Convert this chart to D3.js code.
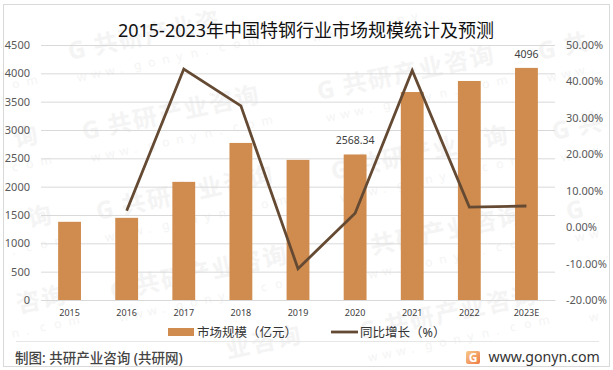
<!DOCTYPE html>
<html>
<head>
<meta charset="utf-8">
<script src="https://cdn.jsdelivr.net/npm/d3@7"></script>
<style>
  html, body { margin: 0; padding: 0; background: #fff; }
  text { font-family: "Noto Sans", "Noto Sans CJK SC", sans-serif; }
</style>
</head>
<body>
<div id="chart"></div>
<script>
const categories = ["2015", "2016", "2017", "2018", "2019", "2020", "2021", "2022", "2023E"];
const marketSize = [1380, 1450, 2085, 2772, 2473, 2568.34, 3670, 3865, 4096];
const growth = [null, 4.5, 43.4, 33.3, -11.4, 3.8, 43, 5.5, 5.8];
const leftTicks = [0, 500, 1000, 1500, 2000, 2500, 3000, 3500, 4000, 4500];
const rightTicks = [-20, -10, 0, 10, 20, 30, 40, 50];
const barLabels = {"2020": "2568.34", "2023E": "4096"};

const width = 613, height = 370;
const barColor = "#d08c4f", lineColor = "#654a33", textColor = "#595959";

const svg = d3.select("#chart").append("svg")
  .attr("width", width)
  .attr("height", height)
  .style("display", "block");

// watermark: one glyph at a time, glyphs that would hit the picture edge are skipped
const wm = svg.append("g").attr("fill", "#f4f4f4");
const angle = -12, rad = angle * Math.PI / 180;

function stamp(chars, x0, y0, step, size, weight) {
  chars.forEach((c, i) => {
    const px = x0 + i * step * Math.cos(rad);
    const py = y0 + i * step * Math.sin(rad);
    if (px < 8 || px > width - size - 8 || py < size + 6 || py > height - 8) return;
    wm.append("text")
      .attr("transform", `translate(${px},${py}) rotate(${angle})`)
      .attr("font-size", size)
      .attr("font-weight", weight)
      .text(c);
  });
}

for (let col = 0; col < 4; col++) {
  for (let row = -1; row < 5; row++) {
    const wx = -165 + col * 235 + row * 14;
    const wy = 20 + ((col * 40) % 80) + row * 80;
    stamp([..."G共研产业咨询"], wx, wy, 26, 24, 700);
    stamp([..."www.gonyn.com"], wx + 8, wy + 22, 14.5, 12, 400);
  }
}

// outer frame
svg.append("rect")
  .attr("x", 3.5).attr("y", 4.5)
  .attr("width", 606).attr("height", 362)
  .attr("fill", "none").attr("stroke", "#d9d9d9").attr("stroke-width", 1);

const x = d3.scaleBand().domain(categories).range([41, 555]).paddingInner(0.6).paddingOuter(0.3);
const y = d3.scaleLinear().domain([0, 4500]).range([300, 45]);
const y2 = d3.scaleLinear().domain([-20, 50]).range([300, 45]);

// left axis with gridlines
const yAxis = svg.append("g").attr("transform", "translate(41,0)")
  .call(d3.axisLeft(y).tickValues(leftTicks).tickSize(-514).tickPadding(11).tickFormat(d3.format("d")));
yAxis.select(".domain").remove();
yAxis.selectAll("line").attr("stroke", "#d9d9d9");
yAxis.selectAll("text").attr("fill", textColor).attr("font-size", 11).style("font-family", '"Noto Sans", sans-serif');

const y2Axis = svg.append("g").attr("transform", "translate(555,0)")
  .call(d3.axisRight(y2).tickValues(rightTicks).tickSize(0).tickPadding(11).tickFormat(d => d.toFixed(2) + "%"));
y2Axis.select(".domain").remove();
y2Axis.selectAll("text").attr("fill", textColor).attr("font-size", 11).style("font-family", '"Noto Sans", sans-serif');

const xAxis = svg.append("g").attr("transform", "translate(0,300)")
  .call(d3.axisBottom(x).tickSize(0).tickPadding(10));
xAxis.select(".domain").attr("stroke", "#d9d9d9");
xAxis.selectAll("text").attr("fill", "#404040").attr("font-size", 9).style("font-family", '"Noto Sans", sans-serif');

svg.append("g").selectAll("rect")
  .data(categories)
  .join("rect")
  .attr("x", d => x(d))
  .attr("width", x.bandwidth())
  .attr("y", (d, i) => y(marketSize[i]))
  .attr("height", (d, i) => y(0) - y(marketSize[i]))
  .attr("fill", barColor);

const line = d3.line()
  .defined(d => d != null)
  .x((d, i) => x(categories[i]) + x.bandwidth() / 2)
  .y(d => y2(d));

svg.append("path").datum(growth)
  .attr("d", line)
  .attr("fill", "none")
  .attr("stroke", lineColor)
  .attr("stroke-width", 2.8);

svg.append("g").selectAll("text")
  .data(categories.filter(d => barLabels[d]))
  .join("text")
  .attr("x", d => x(d) + x.bandwidth() / 2)
  .attr("y", d => y(marketSize[categories.indexOf(d)]) - 10)
  .attr("text-anchor", "middle")
  .attr("font-size", 10.5)
  .attr("fill", "#404040")
  .text(d => barLabels[d]);

// title
svg.append("text")
  .attr("x", 306).attr("y", 37)
  .attr("text-anchor", "middle")
  .attr("font-size", 18)
  .attr("fill", "#111")
  .text("2015-2023年中国特钢行业市场规模统计及预测");

// legend
svg.append("rect").attr("x", 168).attr("y", 328).attr("width", 26).attr("height", 8).attr("fill", barColor);
svg.append("text").attr("x", 197).attr("y", 337).attr("font-size", 12.5).attr("fill", "#333").text("市场规模（亿元）");
svg.append("line").attr("x1", 331).attr("x2", 358).attr("y1", 332).attr("y2", 332)
  .attr("stroke", lineColor).attr("stroke-width", 2.8);
svg.append("text").attr("x", 360).attr("y", 337).attr("font-size", 12.5).attr("fill", "#333").text("同比增长（%）");

// footer
svg.append("line").attr("x1", 16).attr("x2", 599).attr("y1", 341.5).attr("y2", 341.5).attr("stroke", "#e6e6e6");
svg.append("text").attr("x", 15).attr("y", 363).attr("font-size", 13.5).attr("font-weight", 500).attr("fill", "#444")
  .text("制图: 共研产业咨询 (共研网)");

const defs = svg.append("defs");
const grad = defs.append("linearGradient").attr("id", "logoGrad").attr("x1", 0).attr("y1", 0).attr("x2", 1).attr("y2", 1);
grad.append("stop").attr("offset", "0%").attr("stop-color", "#f9c98a");
grad.append("stop").attr("offset", "100%").attr("stop-color", "#ee7a45");
svg.append("rect").attr("x", 466).attr("y", 351).attr("width", 14).attr("height", 13).attr("rx", 2).attr("fill", "url(#logoGrad)");
svg.append("text").attr("x", 473).attr("y", 362).attr("text-anchor", "middle").attr("font-size", 12).attr("font-weight", 700).attr("fill", "#fff").text("G");
svg.append("text").attr("x", 488.5).attr("y", 362).attr("font-size", 14.2).attr("fill", "#333").text("www.gonyn.com");
</script>
</body>
</html>
